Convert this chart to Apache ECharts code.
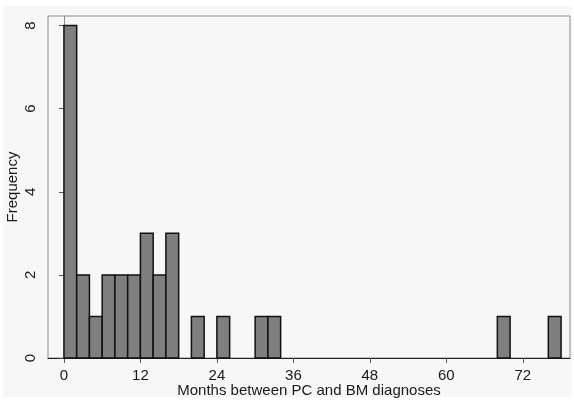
<!DOCTYPE html>
<html lang="en">
<head>
<meta charset="UTF-8">
<style>
    html, body { margin: 0; height: 100%; background: #ffffff; }
    #chart { width: 574px; height: 401px; }
</style>
</head>
<body>
<div id="chart"></div>
<script src="https://cdn.jsdelivr.net/npm/echarts@6/dist/echarts.min.js"></script>
<script>
    // histogram bins (width 2 months), start of each bin and its count
    var binStarts = [0, 2, 4, 6, 8, 10, 12, 14, 16, 20, 24, 30, 32, 68, 76];
    var counts    = [8, 2, 1, 2, 2, 2, 3, 2, 3, 1, 1, 1, 1, 1, 1];
    var binWidth = 2;
    var xTicks = [0, 12, 24, 36, 48, 60, 72];
    var yTicks = [0, 2, 4, 6, 8];

    var data = [];
    for (var i = 0; i < binStarts.length; i++) {
        data.push([binStarts[i], binStarts[i] + binWidth, counts[i]]);
    }

    var font = 'Liberation Sans';
    var myChart = echarts.init(document.getElementById('chart'));
    myChart.setOption({
        animation: false,
        // light grey panel behind the plot
        graphic: [{
            type: 'rect',
            z: -10,
            shape: { x: 3, y: 6, width: 569, height: 391 },
            style: { fill: '#f7f7f7' }
        }],
        grid: {
            left: 48, top: 16, right: 4, bottom: 43,
            outerBoundsMode: 'none',
            containLabel: false,
            show: true,
            backgroundColor: '#f7f7f7',
            borderColor: '#8c8c8c',
            borderWidth: 1
        },
        xAxis: {
            type: 'value',
            min: -2.5,
            max: 79.4,
            name: 'Months between PC and BM diagnoses',
            nameLocation: 'middle',
            nameGap: 25,
            nameMoveOverlap: false,
            nameTextStyle: { color: '#1a1a1a', fontSize: 15, fontFamily: font },
            splitLine: { show: false },
            axisLine: { lineStyle: { color: '#222', width: 1 } },
            axisTick: { customValues: xTicks, length: 5, lineStyle: { color: '#555' } },
            axisLabel: { customValues: xTicks, color: '#1a1a1a', fontSize: 15, margin: 10, fontFamily: font }
        },
        yAxis: {
            type: 'value',
            min: 0,
            max: 8.23,
            name: 'Frequency',
            nameLocation: 'middle',
            nameGap: 28,
            nameMoveOverlap: false,
            nameTextStyle: { color: '#1a1a1a', fontSize: 15, fontFamily: font },
            splitLine: { show: false },
            axisLine: { show: true, lineStyle: { color: '#8c8c8c', width: 1 } },
            axisTick: { show: true, customValues: yTicks, length: 5, lineStyle: { color: '#555' } },
            axisLabel: { customValues: yTicks, rotate: 90, color: '#1a1a1a', fontSize: 15, margin: 10, fontFamily: font }
        },
        series: [{
            type: 'custom',
            data: data,
            encode: { x: [0, 1], y: 2 },
            renderItem: function (params, api) {
                var p0 = api.coord([api.value(0), 0]);
                var p1 = api.coord([api.value(1), api.value(2)]);
                return {
                    type: 'rect',
                    shape: { x: p0[0], y: p1[1], width: p1[0] - p0[0], height: p0[1] - p1[1] },
                    style: { fill: '#7f7f7f', stroke: '#111', lineWidth: 1.5 }
                };
            }
        }]
    });
</script>
</body>
</html>
